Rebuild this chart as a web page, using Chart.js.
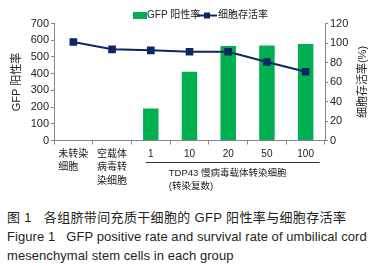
<!DOCTYPE html>
<html>
<head>
<meta charset="utf-8">
<script src="https://cdn.jsdelivr.net/npm/chart.js@4/dist/chart.umd.min.js"></script>
<style>
    html, body { margin: 0; padding: 0; background: #fff; }
    body { width: 381px; height: 266px; position: relative; overflow: hidden; }
    #wrap { position: absolute; left: 0; top: 0; width: 381px; height: 200px; }
    .cap { position: absolute; left: 7px; white-space: pre; color: #231f20;
           font-family: "Liberation Sans", Arial, "Noto Sans CJK SC", sans-serif; font-size: 13px; line-height: 16px; }
</style>
</head>
<body>
<div id="wrap"><canvas id="chart"></canvas></div>
<div class="cap" style="top:210px; letter-spacing:0.35px">图 1   各组脐带间充质干细胞的 GFP 阳性率与细胞存活率</div>
<div class="cap" style="top:229px; letter-spacing:0.07px">Figure 1   GFP positive rate and survival rate of umbilical cord</div>
<div class="cap" style="top:248px; letter-spacing:0.07px">mesenchymal stem cells in each group</div>
<script>
(function () {
    'use strict';

    var groups = [['未转染', '细胞　'], ['空载体', '病毒转', '染细胞'], '1', '10', '20', '50', '100'];
    var gfpRate = [3, 3, 192, 412, 566, 568, 578];
    var survival = [101, 93.5, 92.5, 91, 91, 80.5, 70.5];
    var gfpTicks = { min: 0, max: 700, step: 100 };
    var survTicks = { min: 0, max: 120, step: 20 };

    var green = '#00b050';
    var navy = '#0d2763';
    var axis = '#868686';
    var ink = '#222';
    var fam = '"Liberation Sans", Arial, "Noto Sans CJK SC", sans-serif';

    Chart.defaults.font.family = fam;
    Chart.defaults.color = ink;

    // legend, right-hand title and the TDP43 group bracket
    var extras = {
        id: 'extras',
        afterDraw: function (chart) {
            var c = chart.ctx;
            var x = chart.scales.x;
            var area = chart.chartArea;
            c.save();
            c.font = '10px ' + fam;
            c.fillStyle = ink;
            c.textBaseline = 'middle';

            // legend
            c.fillStyle = green;
            c.fillRect(133, 12, 14, 7);
            c.fillStyle = ink;
            c.fillText('GFP 阳性率', 147, 15.5);
            c.strokeStyle = navy;
            c.lineWidth = 2;
            c.beginPath();
            c.moveTo(197, 15.5);
            c.lineTo(217, 15.5);
            c.stroke();
            c.fillStyle = navy;
            c.fillRect(204, 12.5, 6, 6);
            c.fillStyle = ink;
            c.fillText('细胞存活率', 218, 15.5);

            // right axis title
            c.save();
            c.translate(363, (area.top + area.bottom) / 2);
            c.rotate(-Math.PI / 2);
            c.textAlign = 'center';
            c.font = '11px ' + fam;
            c.fillText('细胞存活率(%)', 0, 0);
            c.restore();

            // group bracket
            var x0 = x.getPixelForValue(2) - 5;
            var x1 = x.getPixelForValue(6) + 14;
            c.strokeStyle = '#333';
            c.lineWidth = 1;
            c.beginPath();
            c.moveTo(x0, 162.5);
            c.lineTo(x1, 162.5);
            c.stroke();
            c.font = '9.5px ' + fam;
            c.fillText('TDP43 慢病毒载体转染细胞', x.getPixelForValue(2) + 18, 173);
            c.fillText('(转染复数)', x.getPixelForValue(2) + 18, 186);
            c.restore();
        }
    };

    new Chart(document.getElementById('chart'), {
        data: {
            labels: groups,
            datasets: [
                {
                    type: 'line',
                    label: '细胞存活率',
                    data: survival,
                    yAxisID: 'y1',
                    borderColor: navy,
                    backgroundColor: navy,
                    borderWidth: 2,
                    pointStyle: 'rect',
                    pointRadius: 4,
                    order: 0,
                },
                {
                    type: 'bar',
                    label: 'GFP 阳性率',
                    data: gfpRate,
                    yAxisID: 'y',
                    backgroundColor: green,
                    categoryPercentage: 1,
                    barPercentage: 0.4,
                    order: 1,
                },
            ],
        },
        options: {
            responsive: true,
            maintainAspectRatio: false,
            animation: false,
            layout: { padding: { top: 23.5, left: 0, right: 0, bottom: 0 } },
            plugins: { legend: { display: false }, tooltip: { enabled: false } },
            scales: {
                x: {
                    offset: true,
                    grid: { offset: true, drawOnChartArea: false, tickLength: 4, color: axis },
                    border: { color: axis },
                    ticks: { font: { size: 10, lineHeight: 1.35 }, padding: 2.5, maxRotation: 0, autoSkip: false },
                    afterFit: function (s) { s.height = 59.5; },
                },
                y: {
                    position: 'left',
                    min: gfpTicks.min,
                    max: gfpTicks.max,
                    grid: { drawOnChartArea: false, tickLength: 3, color: axis },
                    border: { color: axis },
                    ticks: { stepSize: gfpTicks.step, font: { size: 11 }, padding: 2 },
                    title: { display: true, text: 'GFP 阳性率', font: { size: 11 }, padding: { top: 10, bottom: 0 } },
                    afterFit: function (s) { s.width = 54; },
                },
                y1: {
                    position: 'right',
                    min: survTicks.min,
                    max: survTicks.max,
                    grid: { drawOnChartArea: false, tickLength: 3, color: axis },
                    border: { color: axis },
                    ticks: { stepSize: survTicks.step, font: { size: 11 }, padding: 2 },
                    afterFit: function (s) { s.width = 56; },
                },
            },
        },
        plugins: [extras],
    });
})();
</script>
</body>
</html>
